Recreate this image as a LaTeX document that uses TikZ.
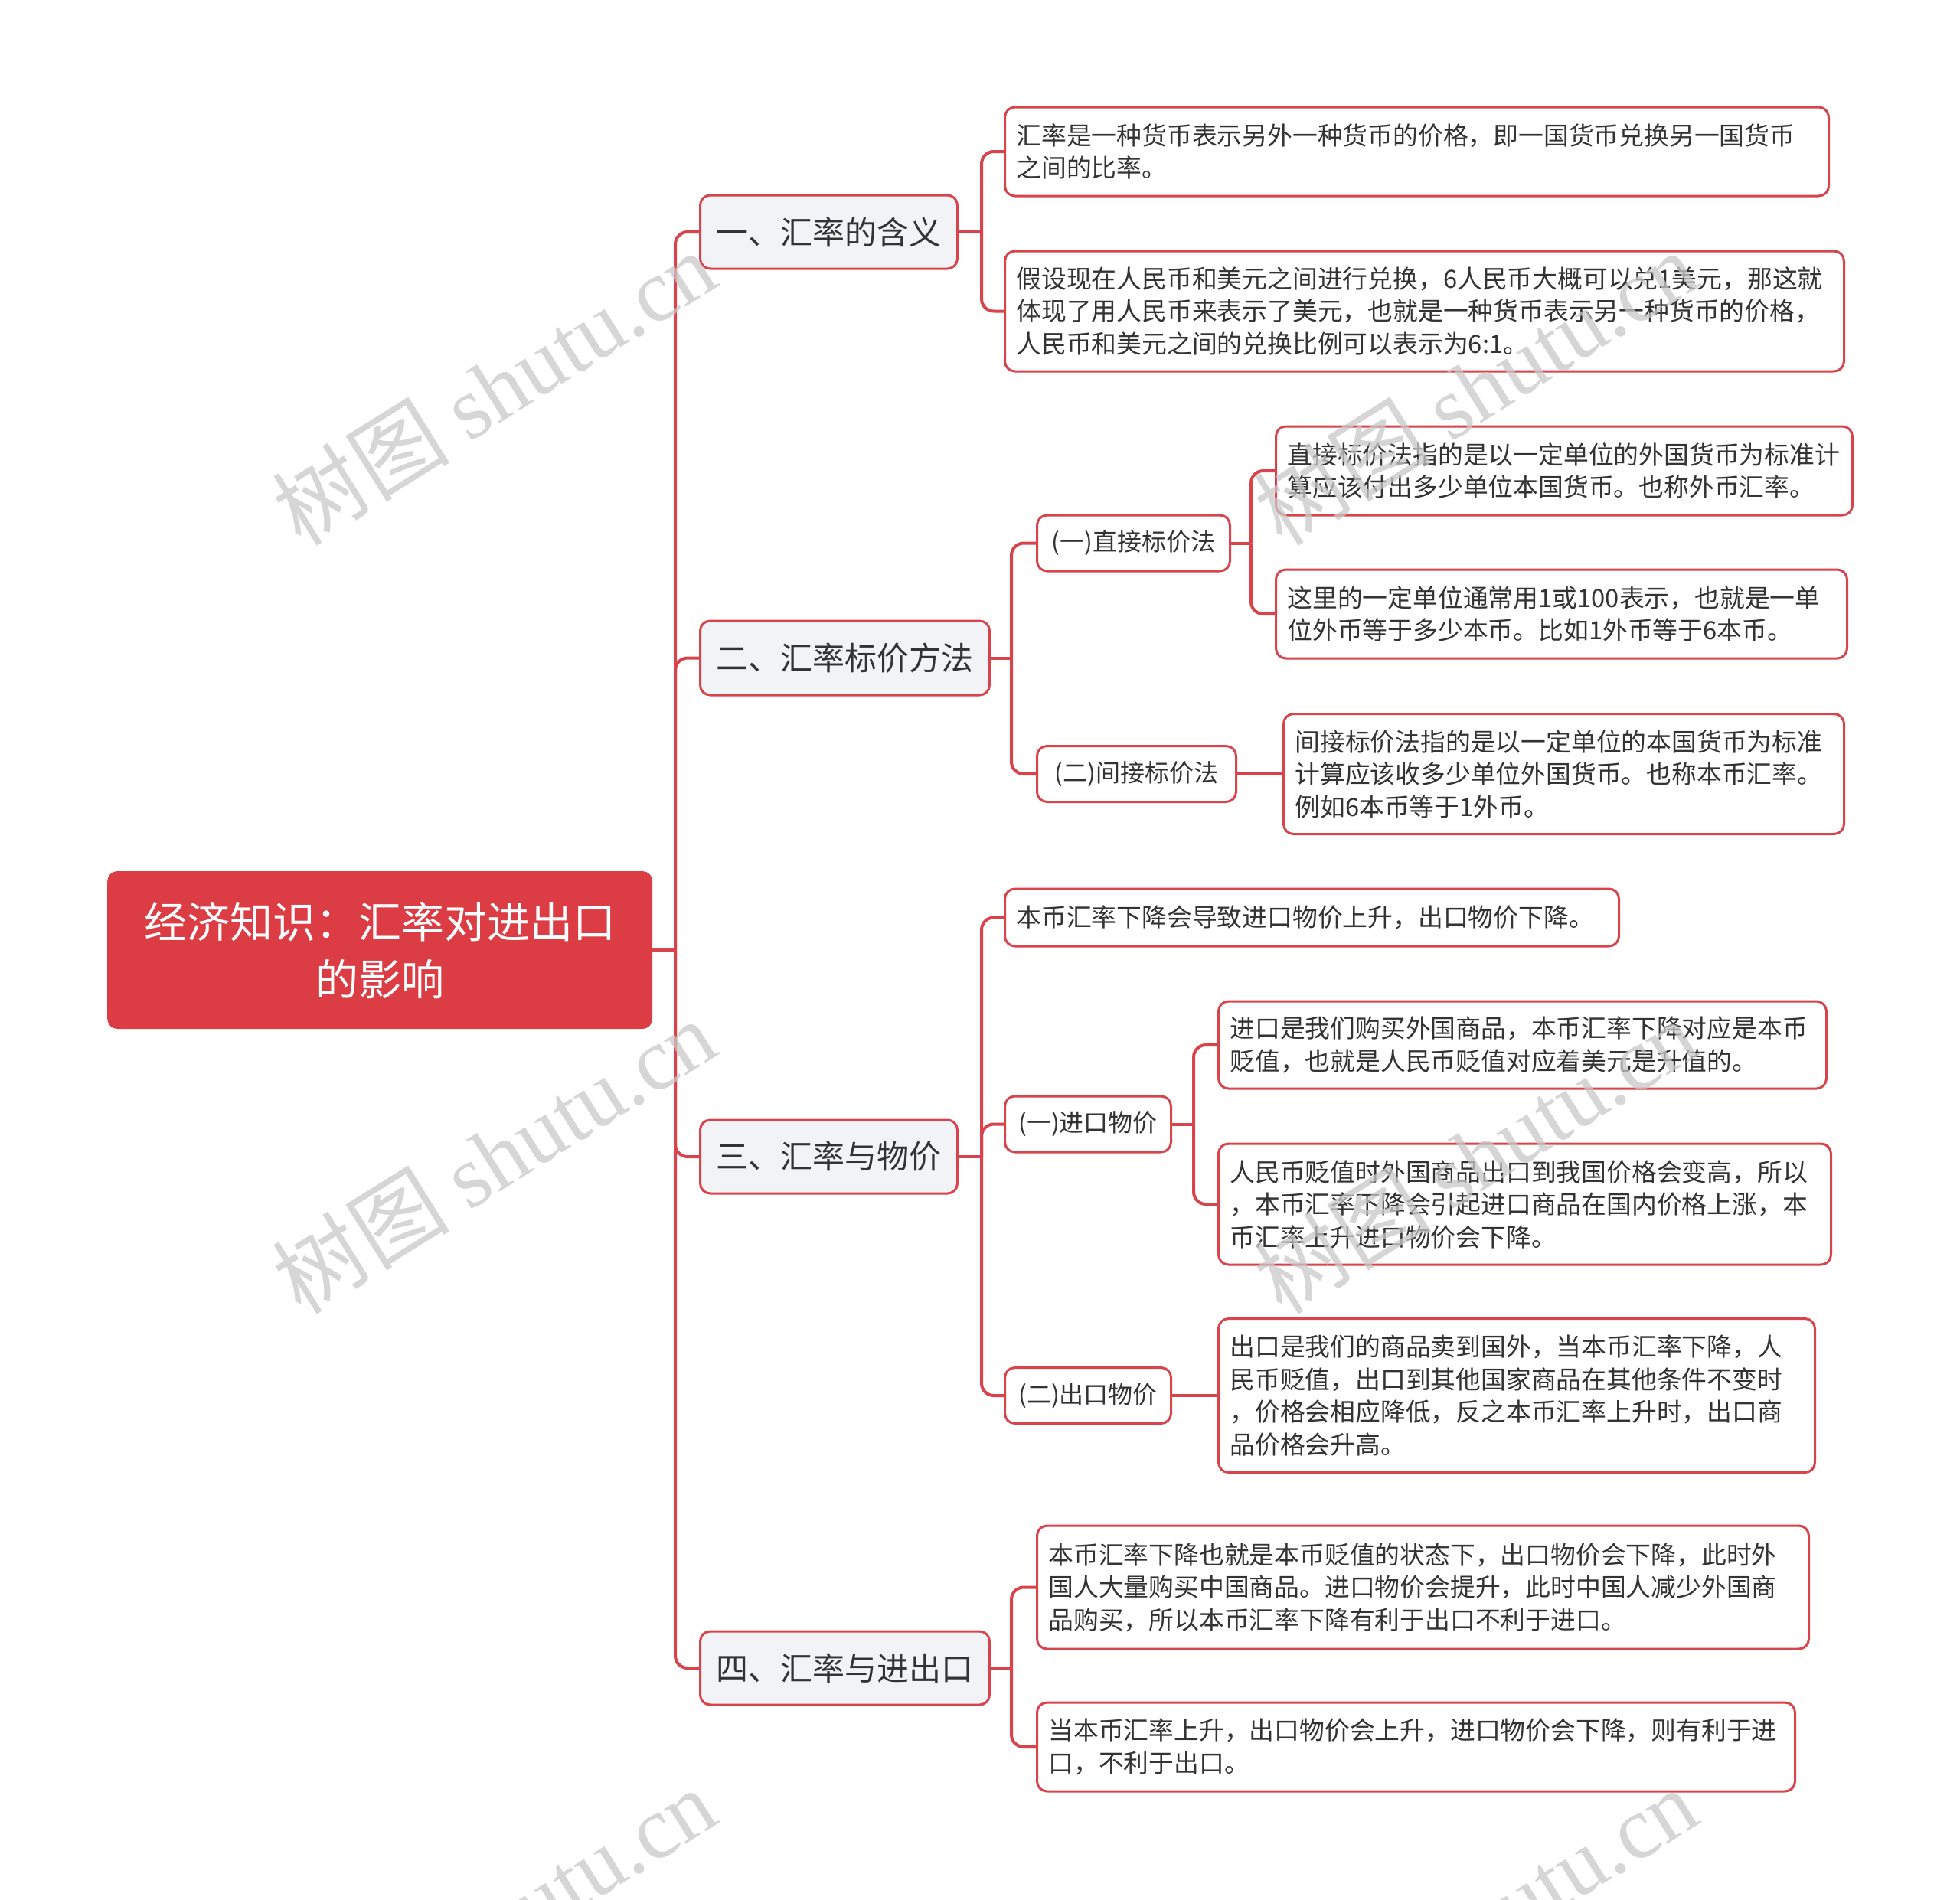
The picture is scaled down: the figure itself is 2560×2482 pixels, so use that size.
\documentclass[tikz,border=0pt]{standalone}
\usepackage{fontspec}
\setmainfont{Noto Sans CJK SC}
\newfontfamily\wmlatin{Liberation Serif}
\definecolor{bordred}{HTML}{D9434B}
\definecolor{linkred}{HTML}{D9434B}
\definecolor{rootred}{HTML}{DC3D45}
\definecolor{mainfill}{HTML}{F1F3F6}
\definecolor{txt}{HTML}{333333}
\definecolor{wm}{HTML}{C8C8C8}
\begin{document}
\begin{tikzpicture}[x=1pt,y=-1pt,
  box/.style={draw=bordred, line width=3pt, rounded corners=13pt, inner xsep=15pt, inner ysep=0pt, anchor=west},
  leaf/.style={box, fill=white, align=left, font=\fontsize{32.8}{42.5}\selectfont, text=txt},
  sub/.style={box, fill=white, align=center, font=\fontsize{32}{42.5}\selectfont, text=txt, inner xsep=0pt},
  mainbox/.style={box, fill=mainfill, align=center, font=\fontsize{42}{50}\selectfont, text=txt, inner xsep=0pt},
  rootbox/.style={draw=none, fill=rootred, rounded corners=13pt, align=center, text=white, font=\fontsize{56}{75}\selectfont, anchor=west, inner sep=0pt},
  link/.style={draw=linkred, line width=4pt, rounded corners=16pt},
  wmark/.style={rotate=32, text=wm, opacity=0.75, font=\fontsize{116}{120}\selectfont},
]
\useasboundingbox (0,0) rectangle (2560,2482);
\clip (0,0) rectangle (2560,2482);

% root
\node[rootbox, minimum width=712pt, minimum height=206pt] (root) at (140,1241) {经济知识：汇率对进出口\\的影响};

% level 1
\node[mainbox, minimum width=336pt, minimum height=96pt] (n1) at (913,303) {一、汇率的含义};
\node[mainbox, minimum width=378pt, minimum height=97pt] (n2) at (913,859.5) {二、汇率标价方法};
\node[mainbox, minimum width=336pt, minimum height=96pt] (n3) at (913,1511) {三、汇率与物价};
\node[mainbox, minimum width=378pt, minimum height=96pt] (n4) at (913,2179) {四、汇率与进出口};

% level 2
\node[sub, minimum width=252pt, minimum height=73pt] (b1) at (1353,709.5) {(一)直接标价法};
\node[sub, minimum width=260pt, minimum height=73pt] (b2) at (1353,1011) {(二)间接标价法};
\node[sub, minimum width=217pt, minimum height=73pt] (c2) at (1311,1468.5) {(一)进口物价};
\node[sub, minimum width=217pt, minimum height=73pt] (c3) at (1311,1823) {(二)出口物价};

% leaves (text width = box width - 30)
\node[leaf, text width=1046pt, minimum height=116pt] (a1) at (1311,198) {汇率是一种货币表示另外一种货币的价格，即一国货币兑换另一国货币\\之间的比率。};
\node[leaf, text width=1066pt, minimum height=157pt] (a2) at (1311,406.5) {假设现在人民币和美元之间进行兑换，6人民币大概可以兑1美元，那这就\\体现了用人民币来表示了美元，也就是一种货币表示另一种货币的价格，\\人民币和美元之间的兑换比例可以表示为6:1。};
\node[leaf, text width=723pt, minimum height=116pt] (b11) at (1665,615) {直接标价法指的是以一定单位的外国货币为标准计\\算应该付出多少单位本国货币。也称外币汇率。};
\node[leaf, text width=716pt, minimum height=116pt] (b12) at (1665,802) {这里的一定单位通常用1或100表示，也就是一单\\位外币等于多少本币。比如1外币等于6本币。};
\node[leaf, text width=702pt, minimum height=157pt] (b21) at (1675,1011) {间接标价法指的是以一定单位的本国货币为标准\\计算应该收多少单位外国货币。也称本币汇率。\\例如6本币等于1外币。};
\node[leaf, text width=772pt, minimum height=75pt] (c1) at (1311,1198.5) {本币汇率下降会导致进口物价上升，出口物价下降。};
\node[leaf, text width=764pt, minimum height=114pt] (c21) at (1590,1365) {进口是我们购买外国商品，本币汇率下降对应是本币\\贬值，也就是人民币贬值对应着美元是升值的。};
\node[leaf, text width=770pt, minimum height=158pt] (c22) at (1590,1573) {人民币贬值时外国商品出口到我国价格会变高，所以\\，本币汇率下降会引起进口商品在国内价格上涨，本\\币汇率上升进口物价会下降。};
\node[leaf, text width=749pt, minimum height=201pt] (c31) at (1590,1823) {出口是我们的商品卖到国外，当本币汇率下降，人\\民币贬值，出口到其他国家商品在其他条件不变时\\，价格会相应降低，反之本币汇率上升时，出口商\\品价格会升高。};
\node[leaf, text width=978pt, minimum height=161pt] (d1) at (1353,2073.5) {本币汇率下降也就是本币贬值的状态下，出口物价会下降，此时外\\国人大量购买中国商品。进口物价会提升，此时中国人减少外国商\\品购买，所以本币汇率下降有利于出口不利于进口。};
\node[leaf, text width=960pt, minimum height=116pt] (d2) at (1353,2282) {当本币汇率上升，出口物价会上升，进口物价会下降，则有利于进\\口，不利于出口。};

% split points
\coordinate (s0) at (882,1241);
\coordinate (s1) at (1282,303);
\coordinate (s2) at (1321,859.5);
\coordinate (sb1) at (1634,709.5);
\coordinate (s3) at (1282,1511);
\coordinate (sc2) at (1559,1468.5);
\coordinate (s4) at (1321,2179);

% connectors
\draw[link] (root.east) -- (s0);
\foreach \n in {n1,n2,n3,n4} \draw[link] (s0) |- (\n.west);
\draw[link] (n1.east) -- (s1);
\foreach \n in {a1,a2} \draw[link] (s1) |- (\n.west);
\draw[link] (n2.east) -- (s2);
\foreach \n in {b1,b2} \draw[link] (s2) |- (\n.west);
\draw[link] (b1.east) -- (sb1);
\foreach \n in {b11,b12} \draw[link] (sb1) |- (\n.west);
\draw[link] (b2.east) -- (b21.west);
\draw[link] (n3.east) -- (s3);
\foreach \n in {c1,c2,c3} \draw[link] (s3) |- (\n.west);
\draw[link] (c2.east) -- (sc2);
\foreach \n in {c21,c22} \draw[link] (sc2) |- (\n.west);
\draw[link] (c3.east) -- (c31.west);
\draw[link] (n4.east) -- (s4);
\foreach \n in {d1,d2} \draw[link] (s4) |- (\n.west);

% watermarks
\foreach \wx/\wy [count=\i] in {645/506, 1927/506, 645/1510, 1927/1510, 645/2514, 1927/2514}
  \node[wmark] (wm\i) at (\wx,\wy) {树图 {\wmlatin shutu.cn}};
\end{tikzpicture}
\end{document}
